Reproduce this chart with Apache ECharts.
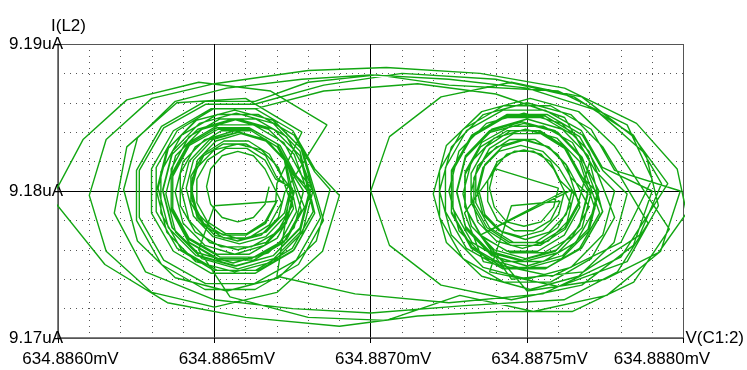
<!DOCTYPE html>
<html><head><meta charset="utf-8">
<script src="https://cdn.jsdelivr.net/npm/echarts@6/dist/echarts.min.js"></script>
<style>html,body{margin:0;padding:0;background:#fff}#c{width:747px;height:370px}</style>
</head><body><div id="c"></div>
<script>
// x: V(C1:2) in uV above 634.8860 mV ; y: I(L2) in nA relative to 9.18 uA
const X0_MV = 634.8860, Y0_UA = 9.18;
const xTicks = [0, 0.5, 1.0, 1.5, 2.0];
const yTicks = [-10, 0, 10];

const left1 = [
[0.675,0.3],[0.662,-0.9],[0.625,-1.8],[0.575,-2.1],[0.525,-1.8],[0.488,-0.9],[0.475,0.3],[0.488,1.5],[0.525,2.4],[0.575,2.7],[0.625,2.4],[0.662,1.5],
[0.715,-0.8],[0.676,-2.3],[0.609,-3.2],[0.531,-3.2],[0.464,-2.3],[0.425,-0.8],[0.425,1.0],[0.464,2.5],[0.531,3.4],[0.609,3.4],[0.676,2.5],[0.715,1.0],
[0.755,-0.1],[0.730,-2.2],[0.660,-3.7],[0.565,-4.3],[0.470,-3.7],[0.400,-2.2],[0.375,-0.1],[0.400,2.0],[0.470,3.5],[0.565,4.1],[0.660,3.5],[0.730,2.0],
[0.788,-1.1],[0.731,-3.3],[0.632,-4.5],[0.518,-4.5],[0.419,-3.3],[0.362,-1.1],[0.362,1.5],[0.419,3.7],[0.518,4.9],[0.632,4.9],[0.731,3.7],[0.788,1.5],
[0.815,0.0],[0.782,-2.8],[0.690,-4.8],[0.565,-5.5],[0.440,-4.8],[0.348,-2.8],[0.315,0.0],[0.348,2.8],[0.440,4.8],[0.565,5.5],[0.690,4.8],[0.782,2.8],
[0.849,-2.0],[0.769,-5.0],[0.630,-6.7],[0.470,-6.7],[0.331,-5.0],[0.251,-2.0],[0.251,1.4],[0.331,4.4],[0.470,6.1],[0.630,6.1],
[0.80,7.4],[1.02,7.9],[1.25,7.2]
];
const right1 = [
[1.60,6.8],[1.82,4.5],[1.90,0.8],[1.80,-3.5],[1.58,-5.8],[1.36,-4.8],[1.30,-1.5],[1.40,1.5],
[1.600,0.2],[1.585,-1.1],[1.545,-2.1],[1.490,-2.4],[1.435,-2.1],[1.395,-1.1],[1.380,0.2],[1.395,1.5],[1.435,2.5],[1.490,2.8],[1.545,2.5],[1.585,1.5],
[1.640,-0.9],[1.598,-2.5],[1.526,-3.5],[1.444,-3.5],[1.372,-2.5],[1.330,-0.9],[1.330,0.9],[1.372,2.5],[1.444,3.5],[1.526,3.5],[1.598,2.5],[1.640,0.9],
[1.695,-0.2],[1.668,-2.4],[1.595,-4.0],[1.495,-4.6],[1.395,-4.0],[1.322,-2.4],[1.295,-0.2],[1.322,2.0],[1.395,3.6],[1.495,4.2],[1.595,3.6],[1.668,2.0],
[1.717,-1.2],[1.656,-3.5],[1.551,-4.8],[1.429,-4.8],[1.324,-3.5],[1.263,-1.2],[1.263,1.4],[1.324,3.7],[1.429,5.0],[1.551,5.0],[1.656,3.7],[1.717,1.4],
[1.780,0.0],[1.742,-3.0],[1.640,-5.2],[1.500,-6.0],[1.360,-5.2],[1.258,-3.0],[1.220,0.0],[1.258,3.0],[1.360,5.2],[1.500,6.0],[1.640,5.2],[1.742,3.0],
[1.887,-2.2],[1.789,-5.5],[1.618,-7.4],
[1.30,-7.8],[1.00,-8.3],[0.75,-8.0]
];
const left2 = [
[0.50,-7.4],[0.28,-5.5],[0.18,-1.5],[0.22,3.0],[0.38,6.0],[0.60,6.3],[0.78,4.0],[0.70,0.5],
[0.696,-0.8],[0.662,-2.1],[0.604,-2.9],[0.536,-2.9],[0.478,-2.1],[0.444,-0.8],[0.444,0.8],[0.478,2.1],[0.536,2.9],[0.604,2.9],[0.662,2.1],[0.696,0.8],
[0.750,0.2],[0.727,-1.7],[0.665,-3.1],[0.580,-3.6],[0.495,-3.1],[0.433,-1.7],[0.410,0.2],[0.433,2.1],[0.495,3.5],[0.580,4.0],[0.665,3.5],[0.727,2.1],
[0.763,-1.4],[0.710,-3.5],[0.618,-4.6],[0.512,-4.6],[0.420,-3.5],[0.367,-1.4],[0.367,1.0],[0.420,3.1],[0.512,4.2],[0.618,4.2],[0.710,3.1],[0.763,1.0],
[0.805,0.1],[0.774,-2.5],[0.688,-4.4],[0.570,-5.1],[0.452,-4.4],[0.366,-2.5],[0.335,0.1],[0.366,2.7],[0.452,4.6],[0.570,5.3],[0.688,4.6],[0.774,2.7],
[0.821,-1.5],[0.751,-4.1],[0.630,-5.6],[0.490,-5.6],[0.369,-4.1],[0.299,-1.5],[0.299,1.5],[0.369,4.1],[0.490,5.6],[0.630,5.6],[0.751,4.1],[0.821,1.5],
[0.900,-0.3],[0.846,-4.1],[0.700,-6.9],[0.500,-7.9],[0.300,-6.9],[0.154,-4.1],[0.100,-0.3],[0.154,3.5],[0.300,6.3],[0.500,7.3],
[0.80,8.2],[1.05,8.4],[1.35,8.0],[1.62,7.0]
];
const right2 = [
[1.85,4.6],[1.98,1.5],[2.01,-1.5],[1.92,-4.2],[1.75,-6.0],[1.50,-6.8],[1.35,-3.0],
[1.620,0.0],[1.601,-1.6],[1.550,-2.7],[1.480,-3.1],[1.410,-2.7],[1.359,-1.6],[1.340,0.0],[1.359,1.6],[1.410,2.7],[1.480,3.1],[1.550,2.7],[1.601,1.6],
[1.669,-0.8],[1.622,-2.6],[1.542,-3.7],[1.448,-3.7],[1.368,-2.6],[1.321,-0.8],[1.321,1.2],[1.368,3.0],[1.448,4.1],[1.542,4.1],[1.622,3.0],[1.669,1.2],
[1.705,-0.1],[1.676,-2.5],[1.598,-4.2],[1.490,-4.8],[1.382,-4.2],[1.304,-2.5],[1.275,-0.1],[1.304,2.3],[1.382,4.0],[1.490,4.6],[1.598,4.0],[1.676,2.3],
[1.742,-1.4],[1.677,-3.8],[1.565,-5.2],[1.435,-5.2],[1.323,-3.8],[1.258,-1.4],[1.258,1.4],[1.323,3.8],[1.435,5.2],[1.565,5.2],[1.677,3.8],[1.742,1.4],
[1.820,-0.2],[1.778,-3.5],[1.665,-5.8],[1.510,-6.7],[1.355,-5.8],[1.242,-3.5],[1.200,-0.2],[1.242,3.1],[1.355,5.4],[1.510,6.3],[1.665,5.4],[1.778,3.1],
[1.955,-2.6],[1.841,-6.2],[1.644,-8.2],[1.416,-8.2],
[1.15,-8.5],[0.90,-9.2]
];
const left3 = [
[0.60,-8.6],[0.35,-7.6],[0.15,-5.0],[-0.02,-0.5],[0.08,3.5],[0.22,6.2],[0.45,7.4],[0.68,6.8],[0.86,4.5],
[0.725,-0.1],[0.705,-1.8],[0.650,-3.0],[0.575,-3.4],[0.500,-3.0],[0.445,-1.8],[0.425,-0.1],[0.445,1.6],[0.500,2.8],[0.575,3.2],[0.650,2.8],[0.705,1.6],
[0.749,-1.0],[0.701,-2.8],[0.618,-3.8],[0.522,-3.8],[0.439,-2.8],[0.391,-1.0],[0.391,1.2],[0.439,3.0],[0.522,4.1],[0.618,4.1],[0.701,3.0],[0.749,1.2],
[0.785,0.0],[0.755,-2.5],[0.673,-4.2],[0.560,-4.9],[0.447,-4.2],[0.365,-2.5],[0.335,0.0],[0.365,2.5],[0.447,4.2],[0.560,4.9],[0.673,4.2],[0.755,2.5],
[0.821,-1.5],[0.755,-4.0],[0.641,-5.4],[0.509,-5.4],[0.395,-4.0],[0.329,-1.5],[0.329,1.3],[0.395,3.8],[0.509,5.2],[0.641,5.2],[0.755,3.8],[0.821,1.3],
[0.870,0.1],[0.826,-3.4],[0.705,-5.9],[0.540,-6.8],[0.375,-5.9],[0.254,-3.4],[0.210,0.1],[0.254,3.6],[0.375,6.1],[0.540,7.0],
[0.78,7.6],[1.00,7.9],[1.25,7.6]
];
const right3 = [
[1.50,7.0],[1.72,5.5],[1.88,2.5],[1.92,-1.0],[1.82,-4.8],[1.60,-6.5],[1.38,-5.5],[1.45,-1.0],
[1.606,-0.7],[1.575,-2.0],[1.521,-2.7],[1.459,-2.7],[1.405,-2.0],[1.374,-0.7],[1.374,0.7],[1.405,2.0],[1.459,2.7],[1.521,2.7],[1.575,2.0],[1.606,0.7],
[1.650,-0.2],[1.628,-2.1],[1.568,-3.4],[1.485,-3.9],[1.402,-3.4],[1.342,-2.1],[1.320,-0.2],[1.342,1.7],[1.402,3.0],[1.485,3.5],[1.568,3.0],[1.628,1.7],
[1.698,-1.1],[1.645,-3.1],[1.553,-4.2],[1.447,-4.2],[1.355,-3.1],[1.302,-1.1],[1.302,1.3],[1.355,3.3],[1.447,4.4],[1.553,4.4],[1.645,3.3],[1.698,1.3],
[1.730,0.0],[1.698,-2.7],[1.610,-4.6],[1.490,-5.3],[1.370,-4.6],[1.282,-2.7],[1.250,0.0],[1.282,2.7],[1.370,4.6],[1.490,5.3],[1.610,4.6],[1.698,2.7],
[1.780,-1.8],[1.705,-4.6],[1.575,-6.2],[1.425,-6.2],[1.295,-4.6],[1.220,-1.8],[1.220,1.4],[1.295,4.2],[1.425,5.8],[1.575,5.8],[1.705,4.2],[1.780,1.4],
[1.990,0.0],[1.927,-4.1],[1.755,-7.1],[1.520,-8.2],[1.285,-7.1],
[1.05,-8.8],[0.80,-8.6]
];
const left4 = [
[0.55,-7.2],[0.45,-4.0],[0.50,-1.0],
[0.700,-0.7],[0.664,-2.2],[0.601,-3.0],[0.529,-3.0],[0.466,-2.2],[0.430,-0.7],[0.430,0.9],[0.466,2.4],[0.529,3.2],[0.601,3.2],[0.664,2.4],[0.700,0.9],
[0.755,0.0],[0.731,-2.0],[0.665,-3.5],[0.575,-4.0],[0.485,-3.5],[0.419,-2.0],[0.395,0.0],[0.419,2.0],[0.485,3.5],[0.575,4.0],[0.665,3.5],[0.731,2.0],
[0.778,-1.3],[0.722,-3.5],[0.626,-4.7],[0.514,-4.7],[0.418,-3.5],[0.362,-1.3],[0.362,1.1],[0.418,3.3],[0.514,4.5],[0.626,4.5],[0.722,3.3],[0.778,1.1],
[0.810,0.2],[0.777,-2.5],[0.688,-4.4],[0.565,-5.1],[0.442,-4.4],[0.353,-2.5],[0.320,0.2],[0.353,2.9],[0.442,4.8],[0.565,5.5],[0.688,4.8],[0.777,2.9],
[0.840,-1.8],[0.762,-4.7],[0.628,-6.3],[0.472,-6.3],[0.338,-4.7],[0.260,-1.8],[0.260,1.4],[0.338,4.3],[0.472,5.9],[0.628,5.9],
[0.85,7.2],[1.10,8.0],[1.40,7.6]
];
const right4 = [
[1.65,6.4],[1.84,3.8],[1.93,0.5],[1.86,-3.0],[1.68,-5.5],[1.45,-6.0],[1.35,-3.0],
[1.645,0.1],[1.625,-1.6],[1.570,-2.8],[1.495,-3.3],[1.420,-2.8],[1.365,-1.6],[1.345,0.1],[1.365,1.8],[1.420,3.0],[1.495,3.5],[1.570,3.0],[1.625,1.8],
[1.669,-1.1],[1.619,-3.0],[1.534,-4.1],[1.436,-4.1],[1.351,-3.0],[1.301,-1.1],[1.301,1.1],[1.351,3.0],[1.436,4.1],[1.534,4.1],[1.619,3.0],[1.669,1.1],
[1.725,-0.1],[1.695,-2.6],[1.613,-4.4],[1.500,-5.1],[1.387,-4.4],[1.305,-2.6],[1.275,-0.1],[1.305,2.4],[1.387,4.2],[1.500,4.9],[1.613,4.2],[1.695,2.4],
[1.741,-1.4],[1.674,-3.9],[1.557,-5.3],[1.423,-5.3],[1.306,-3.9],[1.239,-1.4],[1.239,1.6],[1.306,4.1],[1.423,5.5],[1.557,5.5],[1.674,4.1],[1.741,1.6],
[1.900,0.0],[1.840,-3.7],[1.675,-6.4],[1.450,-7.4],[1.225,-6.4],[1.060,-3.7],[1.000,0.0],[1.060,3.7],[1.225,6.4],[1.450,7.4],[1.675,6.4],[1.840,3.7],[1.95,0.5],
[1.80,-4.5],[1.55,-7.0],[1.25,-7.6],[0.95,-7.0],[0.70,-5.8]
];
const left5 = [
[0.745,0.3],[0.724,-1.5],[0.665,-2.8],[0.585,-3.3],[0.505,-2.8],[0.446,-1.5],[0.425,0.3],[0.446,2.1],[0.505,3.4],[0.585,3.9],[0.665,3.4],[0.724,2.1],
[0.753,-1.2],[0.701,-3.2],[0.612,-4.3],[0.508,-4.3],[0.419,-3.2],[0.367,-1.2],[0.367,1.2],[0.419,3.2],[0.508,4.3],[0.612,4.3],[0.701,3.2],[0.753,1.2],
[0.805,-0.2],[0.774,-2.8],[0.690,-4.6],[0.575,-5.3],[0.460,-4.6],[0.376,-2.8],[0.345,-0.2],[0.376,2.4],[0.460,4.2],[0.575,4.9],[0.690,4.2],[0.774,2.4],
[0.816,-1.4],[0.749,-3.9],[0.632,-5.4],[0.498,-5.4],[0.381,-3.9],[0.314,-1.4],[0.314,1.6],[0.381,4.1],[0.498,5.6],[0.632,5.6],
[0.85,6.8],[1.15,7.3],[1.40,6.6],[1.62,5.0],[1.70,2.0]
];
const right5 = [
[1.664,-0.8],[1.620,-2.5],[1.544,-3.5],[1.456,-3.5],[1.380,-2.5],[1.336,-0.8],[1.336,1.2],[1.380,2.9],[1.456,3.9],[1.544,3.9],[1.620,2.9],[1.664,1.2],
[1.695,0.0],[1.667,-2.4],[1.590,-4.1],[1.485,-4.7],[1.380,-4.1],[1.303,-2.4],[1.275,0.0],[1.303,2.4],[1.380,4.1],[1.485,4.7],[1.590,4.1],[1.667,2.4],
[1.732,-1.5],[1.668,-3.9],[1.558,-5.3],[1.432,-5.3],[1.322,-3.9],[1.258,-1.5],[1.258,1.3],[1.322,3.7],[1.432,5.1],[1.558,5.1],[1.668,3.7],[1.732,1.3]
];

const trajectory = [].concat(left1, right1, left2, right2, left3, right3, left4, right4, left5, right5);

const FONT = 'Liberation Sans, Arial, sans-serif';
const chart = echarts.init(document.getElementById('c'), null, {renderer: 'canvas'});
chart.setOption({
  animation: false,
  backgroundColor: '#fff',
  title: {text: 'I(L2)', left: 46, top: 13, textStyle: {fontSize: 17, fontWeight: 'normal', color: '#000', fontFamily: FONT}},
  grid: {left: 58, top: 44, right: 61, bottom: 32, containLabel: false},
  xAxis: {
    type: 'value', min: xTicks[0], max: xTicks[xTicks.length - 1], interval: xTicks[1] - xTicks[0],
    name: 'V(C1:2)', nameLocation: 'end', nameGap: 2,
    nameTextStyle: {fontSize: 17, color: '#000', fontFamily: FONT, align: 'left', verticalAlign: 'middle', padding: [0, 0, 4, 0]},
    axisLine: {show: true, onZero: false, lineStyle: {color: '#555', width: 1.5}},
    axisTick: {show: true, length: 5, lineStyle: {color: '#000'}},
    axisLabel: {
      margin: 13, fontSize: 17, color: '#000', fontFamily: FONT,
      formatter: function (v) {
        const s = (X0_MV + v / 1000).toFixed(4) + 'mV';
        if (v === xTicks[xTicks.length - 1]) return '{t|' + s + '}{r| }';
        return '{l| }{t|' + s + '}';
      },
      rich: {
        t: {fontSize: 17, color: '#000', fontFamily: FONT},
        l: {width: 25, fontSize: 17},
        r: {width: 43, fontSize: 17}
      }
    },
    splitLine: {show: true, lineStyle: {color: ['#555', '#000', '#000', '#333', '#555'], width: 1}},
    minorTick: {show: false, splitNumber: 5},
    minorSplitLine: {show: true, lineStyle: {color: '#555', width: 1, type: [1, 5]}}
  },
  yAxis: {
    type: 'value', min: yTicks[0], max: yTicks[yTicks.length - 1], interval: yTicks[1] - yTicks[0],
    axisLine: {show: true, onZero: false, lineStyle: {color: '#555', width: 1.5}},
    axisTick: {show: false},
    axisLabel: {
      margin: -5, fontSize: 17, color: '#000', fontFamily: FONT,
      formatter: function (v) { return (Y0_UA + v / 1000).toFixed(2) + 'uA'; }
    },
    splitLine: {show: true, lineStyle: {color: ['#555', '#000', '#555'], width: 1}},
    minorTick: {show: false, splitNumber: 5},
    minorSplitLine: {show: true, lineStyle: {color: '#555', width: 1, type: [1, 5]}}
  },
  series: [{
    type: 'line', data: trajectory, showSymbol: false, clip: false, smooth: false,
    lineStyle: {color: '#12a612', width: 1.4}, z: 3
  }]
});
</script></body></html>
